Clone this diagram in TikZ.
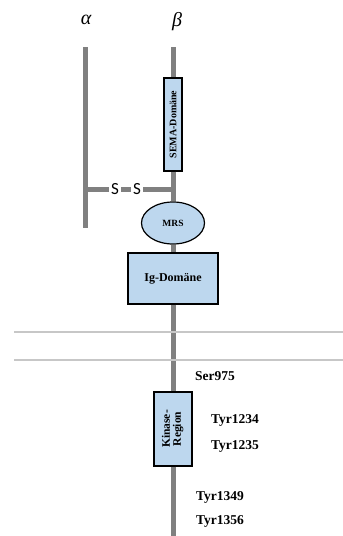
\documentclass[tikz,border=0pt]{standalone}
\usepackage{fontspec}
\setmainfont{Liberation Serif}
\newfontfamily\bridgefont{Carlito}
\usepackage{xcolor}
\usepackage{tikz}
\usetikzlibrary{shapes.geometric}
\definecolor{domblue}{HTML}{BDD7EE}

\begin{document}
\begin{tikzpicture}[x=1pt, y=-1pt,
  chain/.style={draw=black!50, line width=5pt},
  dombox/.style={draw=black, line width=1.2pt, fill=domblue, font=\bfseries, inner sep=0pt},
  membrane/.style={draw=black!22, line width=2pt},
  greek/.style={font=\fontsize{20}{22}\selectfont\itshape},
  site/.style={font=\fontsize{13.5}{15}\selectfont\bfseries, anchor=west, inner sep=0pt}]
  \useasboundingbox (0,0) rectangle (343,536);
  \node[greek] (alpha) at (86,20) {α};
  \node[greek] (beta) at (177,22) {β};
  % alpha chain
  \coordinate (atop) at (85,47); \coordinate (abot) at (85,228);
  \draw[chain] (atop) -- (abot);
  % beta chain domains
  \coordinate (btop) at (173,47); \coordinate (bbot) at (173,536);
  \node[dombox, minimum width=18pt, minimum height=93pt] (sema) at (173,124.5)
    {\rotatebox{90}{\fontsize{10}{11}\selectfont SEMA-Domäne}};
  \node[dombox, ellipse, minimum width=63pt, minimum height=42pt] (mrs) at (173,223)
    {\fontsize{9.5}{11}\selectfont MRS};
  \node[dombox, minimum width=90pt, minimum height=51pt] (ig) at (173,278.5)
    {\fontsize{12}{14}\selectfont Ig-Domäne};
  \node[dombox, minimum width=38pt, minimum height=74pt] (kinase) at (173,429)
    {\rotatebox{90}{\fontsize{11.5}{10.5}\selectfont\begin{tabular}{@{}c@{}}Kinase-\\Region\end{tabular}}};
  \draw[chain] (btop) -- (sema);
  \draw[chain] (sema) -- (mrs);
  \draw[chain] (mrs) -- (ig);
  \draw[chain] (ig) -- (kinase);
  \draw[chain] (kinase) -- (bbot);
  % disulfide bridge
  \coordinate (bridgeA) at (85,189); \coordinate (bridgeB) at (173,189);
  \node[font=\bridgefont\fontsize{17}{18}\selectfont, inner sep=2pt] (s1) at (115,189) {S};
  \node[font=\bridgefont\fontsize{17}{18}\selectfont, inner sep=2pt] (s2) at (137,189) {S};
  \draw[chain] (bridgeA) -- (s1);
  \draw[chain] (s1) -- (s2);
  \draw[chain] (s2) -- (bridgeB);
  % membrane
  \draw[membrane] (14,332) -- (343,332);
  \draw[membrane] (14,360) -- (343,360);
  % phosphorylation sites
  \node[site] (ser975) at (195,376) {Ser975};
  \node[site] (tyr1234) at (211,420) {Tyr1234};
  \node[site] (tyr1235) at (211,446) {Tyr1235};
  \node[site] (tyr1349) at (196,497) {Tyr1349};
  \node[site] (tyr1356) at (196,521) {Tyr1356};
\end{tikzpicture}
\end{document}
